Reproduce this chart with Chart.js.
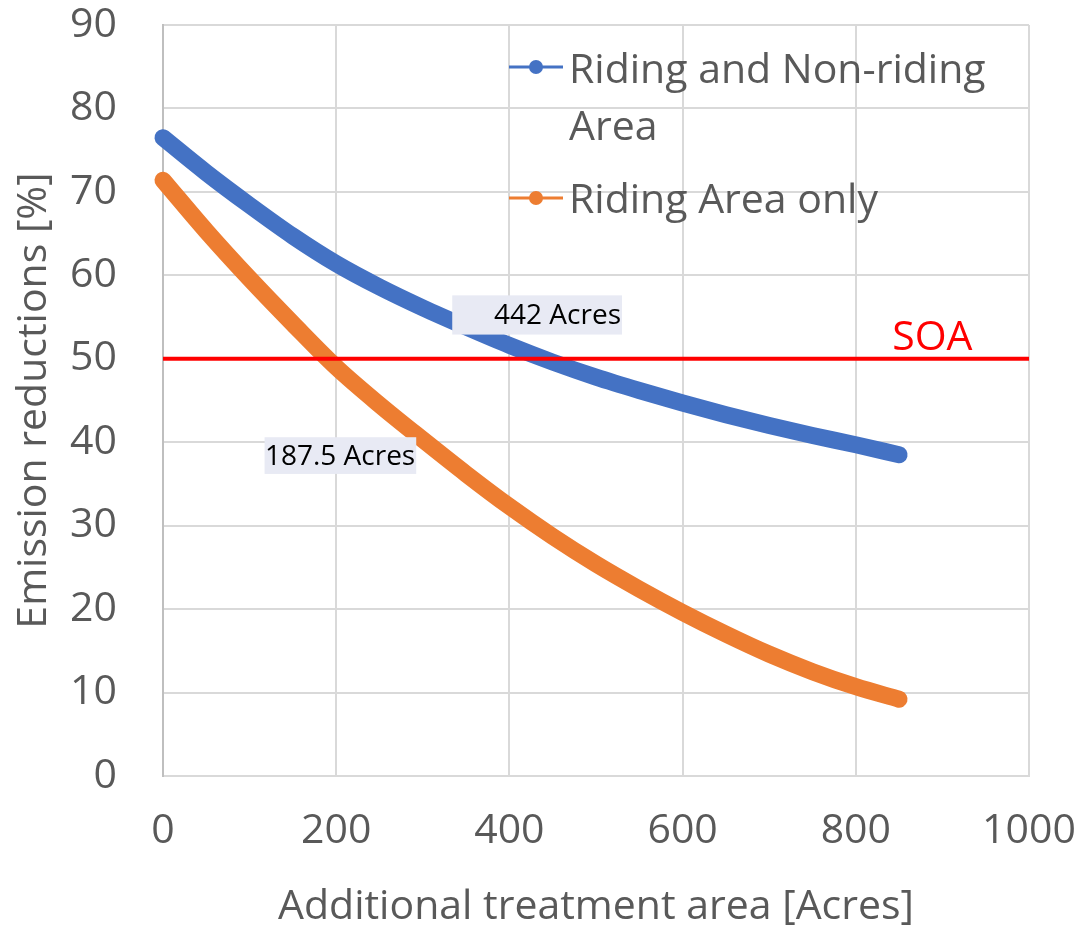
<!DOCTYPE html>
<html lang="en">
<head>
<meta charset="UTF-8">
<title>Emission reductions vs. additional treatment area</title>
<script src="https://cdn.jsdelivr.net/npm/chart.js"></script>
<style>
  html, body { margin: 0; padding: 0; background: #ffffff; }
  #wrap { width: 1081px; height: 928px; }
</style>
</head>
<body>
<div id="wrap"><canvas id="emissionChart" width="1081" height="928"></canvas></div>
<script>
// Additional treatment area [Acres]
var acres = [0, 50, 100, 150, 200, 250, 300, 350, 400, 450, 500, 550, 600, 650, 700, 750, 800, 850];
// Emission reductions [%]
var ridingNonRiding = [76.5, 72.3, 68.4, 64.7, 61.4, 58.6, 56.1, 53.8, 51.6, 49.6, 47.8, 46.2, 44.7, 43.3, 42.0, 40.8, 39.7, 38.5];
var ridingOnly = [71.4, 65.3, 59.6, 54.2, 49.0, 44.5, 40.3, 36.2, 32.3, 28.7, 25.4, 22.4, 19.6, 17.0, 14.6, 12.5, 10.7, 9.2];

var soaLevel = 50;
var soaSpan = [0, 1000];

var xTickValues = [0, 200, 400, 600, 800, 1000];
var yTickValues = [0, 10, 20, 30, 40, 50, 60, 70, 80, 90];

var seriesNames = ['Riding and Non-riding Area', 'Riding Area only'];
var crossingLabels = ['442 Acres', '187.5 Acres'];

var BLUE = '#4472c4';
var ORANGE = '#ed7d31';
var RED = '#ff0000';
var TEXT = '#595959';
var FONT = '"Open Sans", "Noto Sans", sans-serif';

function toPoints(xs, ys) {
    return xs.map(function (x, i) { return { x: x, y: ys[i] }; });
}

// legend on the upper right, with the first name wrapped over two lines
var sideLegend = {
    id: 'sideLegend',
    afterDraw: function (chart) {
        var ctx = chart.ctx;
        var entries = [
            { lines: ['Riding and Non-riding', 'Area'], color: BLUE, markY: 67, baseY: 83 },
            { lines: ['Riding Area only'], color: ORANGE, markY: 198, baseY: 213 }
        ];
        ctx.save();
        ctx.font = '41px ' + FONT;
        ctx.textAlign = 'left';
        ctx.textBaseline = 'alphabetic';
        entries.forEach(function (e) {
            ctx.strokeStyle = e.color;
            ctx.lineWidth = 3;
            ctx.beginPath();
            ctx.moveTo(509, e.markY);
            ctx.lineTo(563, e.markY);
            ctx.stroke();
            ctx.fillStyle = e.color;
            ctx.beginPath();
            ctx.arc(536, e.markY, 7, 0, Math.PI * 2);
            ctx.fill();
            ctx.fillStyle = TEXT;
            e.lines.forEach(function (t, i) {
                ctx.fillText(t, 569, e.baseY + i * 57);
            });
        });
        ctx.restore();
    }
};

// crossing labels and the SOA tag
var notes = {
    id: 'notes',
    afterDatasetsDraw: function (chart) {
        var ctx = chart.ctx;
        var xs = chart.scales.x, ys = chart.scales.y;
        var boxes = [
            { text: crossingLabels[0], x0: 334, x1: 530, y0: 57.6, y1: 52.9 },
            { text: crossingLabels[1], x0: 117.3, x1: 292.4, y0: 40.6, y1: 36.2 }
        ];
        ctx.save();
        boxes.forEach(function (b) {
            var l = xs.getPixelForValue(b.x0), r = xs.getPixelForValue(b.x1);
            var t = ys.getPixelForValue(b.y0), btm = ys.getPixelForValue(b.y1);
            ctx.fillStyle = '#e8eaf4';
            ctx.fillRect(l, t, r - l, btm - t);
            ctx.fillStyle = '#000000';
            ctx.font = '28px ' + FONT;
            ctx.textAlign = 'right';
            ctx.textBaseline = 'middle';
            ctx.fillText(b.text, r - 1, (t + btm) / 2 + 1);
        });
        ctx.fillStyle = RED;
        ctx.font = '41px ' + FONT;
        ctx.textAlign = 'left';
        ctx.textBaseline = 'alphabetic';
        ctx.fillText('SOA', xs.getPixelForValue(842), ys.getPixelForValue(51.0));
        ctx.restore();
    }
};

var ctx = document.getElementById('emissionChart').getContext('2d');
var emissionChart = new Chart(ctx, {
    type: 'line',
    data: {
        datasets: [{
            label: 'SOA',
            data: toPoints(soaSpan, [soaLevel, soaLevel]),
            borderColor: RED,
            borderWidth: 4,
            pointRadius: 0,
            order: 0
        }, {
            label: seriesNames[0],
            data: toPoints(acres, ridingNonRiding),
            borderColor: BLUE,
            backgroundColor: BLUE,
            borderWidth: 17,
            borderCapStyle: 'round',
            borderJoinStyle: 'round',
            cubicInterpolationMode: 'monotone',
            pointRadius: 0,
            order: 1
        }, {
            label: seriesNames[1],
            data: toPoints(acres, ridingOnly),
            borderColor: ORANGE,
            backgroundColor: ORANGE,
            borderWidth: 17,
            borderCapStyle: 'round',
            borderJoinStyle: 'round',
            cubicInterpolationMode: 'monotone',
            pointRadius: 0,
            order: 2
        }]
    },
    options: {
        responsive: false,
        animation: false,
        clip: false,
        layout: { padding: { top: 25, right: 52, bottom: 0, left: 0 } },
        plugins: {
            legend: { display: false },
            tooltip: { enabled: false }
        },
        scales: {
            x: {
                type: 'linear',
                min: 0,
                max: 1000,
                afterBuildTicks: function (s) { s.ticks = xTickValues.map(function (v) { return { value: v }; }); },
                afterFit: function (s) {
                    s.height = 152;
                    s.paddingLeft = 0;
                    s.paddingRight = 0;
                },
                grid: { color: '#d9d9d9', lineWidth: 2, drawTicks: false },
                border: { color: '#d9d9d9', width: 2 },
                ticks: {
                    color: TEXT,
                    font: { family: FONT, size: 41 },
                    padding: 31,
                    maxRotation: 0,
                    callback: function (v) { return String(v); }
                },
                title: {
                    display: true,
                    text: 'Additional treatment area [Acres]',
                    color: TEXT,
                    font: { family: FONT, size: 41 },
                    padding: { top: 0, bottom: -4 }
                }
            },
            y: {
                min: 0,
                max: 90,
                afterBuildTicks: function (s) { s.ticks = yTickValues.map(function (v) { return { value: v }; }); },
                afterFit: function (s) {
                    s.width = 163;
                    s.paddingTop = 0;
                    s.paddingBottom = 0;
                },
                grid: { color: '#d9d9d9', lineWidth: 2, drawTicks: false },
                border: { color: '#bfbfbf', width: 2 },
                ticks: { color: TEXT, font: { family: FONT, size: 41 }, padding: 46 },
                title: {
                    display: true,
                    text: 'Emission reductions [%]',
                    color: TEXT,
                    font: { family: FONT, size: 41 },
                    padding: { top: 10, bottom: 0 }
                }
            }
        }
    },
    plugins: [sideLegend, notes]
});
</script>
</body>
</html>
